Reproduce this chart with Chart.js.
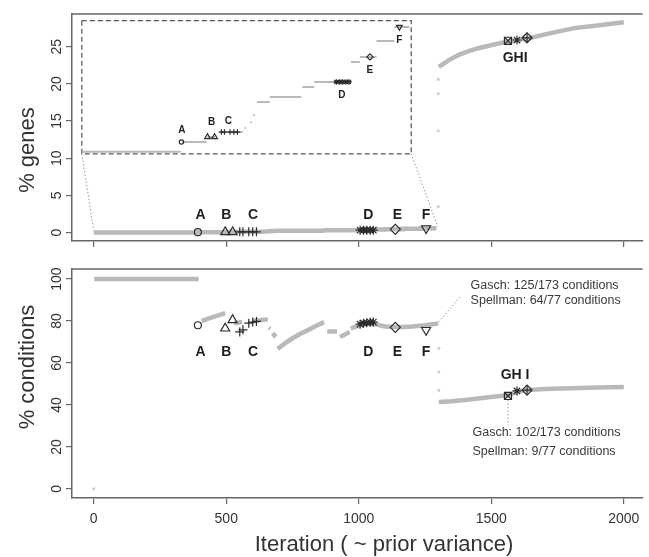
<!DOCTYPE html>
<html>
<head>
<meta charset="utf-8">
<script src="https://cdn.jsdelivr.net/npm/chart.js@4"></script>
<style>
  body { margin: 0; background: #fff; }
  #wrap { position: relative; width: 649px; height: 557px; overflow: hidden; }
  canvas { position: absolute; left: 0; }
</style>
</head>
<body>
<div id="wrap">
  <canvas id="top" width="649" height="260" style="top:0"></canvas>
  <canvas id="bottom" width="649" height="297" style="top:260px"></canvas>
  <canvas id="inset" width="10" height="10"></canvas>
</div>
<script>
// ticks
const X_TICKS = [0, 500, 1000, 1500, 2000];
const GENE_TICKS = [0, 5, 10, 15, 20, 25];
const COND_TICKS = [0, 20, 40, 60, 80, 100];

// % genes, early iterations: flat steps (start, end, value)
const STEP_START = [0, 395, 496, 545, 691, 742, 871, 918, 1063, 1098, 1164, 1234];
const STEP_END = [390, 492, 527, 635, 742, 867, 918, 1059, 1098, 1164, 1234, 1293];
const STEP_PCT = [0.01, 0.054, 0.077, 0.099, 0.235, 0.257, 0.302, 0.325, 0.415, 0.438, 0.51, 0.573];
const RISE_ITER = [645, 668, 680];
const RISE_PCT = [0.117, 0.144, 0.176];

// % genes, after the jump
const GENE_JUMP_ITER = [1300, 1300, 1300, 1300];
const GENE_JUMP_PCT = [3.5, 13.7, 18.7, 20.6];
const GENE_LATE_ITER = [1302, 1340, 1377, 1415, 1451, 1510, 1563, 1638, 1720, 1813, 1907, 2000];
const GENE_LATE_PCT = [22.3, 23.2, 23.9, 24.4, 24.8, 25.3, 25.7, 26.1, 26.8, 27.5, 27.9, 28.3];

// % conditions (null = break in the trace)
const COND_ITER = [2, 396, null, 407, 440, 470, 496, null, 530, 560, null, 600, 657, null, 661, 666, null,
  675, 687, null, 694, 720, 750, 780, 810, 840, 869, null, 881, 918, null, 929, 966, null,
  970, 1000, 1030, 1067, 1100, 1150, 1200, 1250, 1300, null,
  1302, 1350, 1400, 1450, 1515, 1563, 1600, 1640, 1700, 1800, 1900, 2000];
const COND_PCT = [100, 100, null, 80, 81.5, 82.7, 83.8, null, 79, 79.5, null, 80, 80.8, null, 76.8, 76.3, null,
  74.2, 72.4, null, 66.7, 69.3, 71.8, 73.9, 75.8, 77.8, 79.5, null, 75, 75, null, 72.4, 74.8, null,
  76.5, 77.8, 78.8, 78.3, 77.4, 77, 77.4, 78, 78.8, null,
  41.4, 41.8, 42.4, 43.1, 44.1, 44.6, 46.4, 47.2, 47.6, 48, 48.3, 48.6];
const COND_DOT_ITER = [0, 1302, 1302, 1302];
const COND_DOT_PCT = [0, 67, 55.7, 47];

// marked solutions A-I (iterations)
const A_ITER = [393];
const B_ITER = [496, 524];
const C_ITER = [551, 563, 585, 600, 614];
const D_ITER = [1005, 1018, 1030, 1043, 1055];
const E_ITER = [1138];
const F_ITER = [1254];
const G_ITER = [1563];
const H_ITER = [1597];
const I_ITER = [1635];
// their % genes
const A_GENE = [0.054], B_GENE = [0.077, 0.077], C_GENE = [0.099, 0.099, 0.099, 0.099, 0.099];
const D_GENE = [0.325, 0.325, 0.325, 0.325, 0.325], E_GENE = [0.438], F_GENE = [0.573];
const G_GENE = [25.8], H_GENE = [25.9], I_GENE = [26.2];
// their % conditions
const A_COND = [78], B_COND = [76.5, 80.5], C_COND = [74.8, 75.8, 79, 79.5, 79.8];
const D_COND = [78.5, 79, 79.2, 79.4, 79.5], E_COND = [77], F_COND = [75.7];
const G_COND = [44.3], H_COND = [46.7], I_COND = [47.1];

// letter labels
const LETTERS = ['A', 'B', 'C', 'D', 'E', 'F'];
const LETTER_ITER = [403, 500, 601, 1036, 1146, 1254];
const LETTER_GENE = 2.4, LETTER_COND = 65.2;
const GHI_ITER = 1590, GHI_GENE = 23.5, GHI_COND = 54.3;
const INSET_LETTER_ITER = [395, 512, 578, 1027, 1137, 1254];
const INSET_LETTER_PCT = [0.108, 0.144, 0.149, 0.266, 0.379, 0.514];

// inset: where it sits in the top panel, and what it shows
const INSET_ITER = [-45, 1198];
const INSET_PCT = [10.6, 28.5];
const INSET_RANGE_ITER = [0, 1300];
const INSET_RANGE_PCT = [0, 0.6];

// notes
const NOTE_UP = ['Gasch: 125/173 conditions', 'Spellman: 64/77 conditions'];
const NOTE_UP_ITER = 1422, NOTE_UP_PCT = [96.7, 90];
const NOTE_DOWN = ['Gasch: 102/173 conditions', 'Spellman: 9/77 conditions'];
const NOTE_DOWN_ITER = 1429, NOTE_DOWN_PCT = [26.7, 17.6];

const INK = '#2b2b2b', GREY = '#b9b9b9', DOT = '#cfcfcf', AXIS = '#666';
const FONT = '"Liberation Sans", Arial, Helvetica, sans-serif';
Chart.defaults.font.family = FONT;

function pts(xs, ys) { return xs.map((x, i) => ({ x: x, y: ys[i] })); }

function mark(xs, ys, style, r, extra) {
  return Object.assign({
    type: 'scatter', data: pts(xs, ys), pointStyle: style, pointRadius: r,
    borderColor: INK, backgroundColor: 'rgba(0,0,0,0)', borderWidth: 1.2, order: 0
  }, extra || {});
}
function trace(data, w, extra) {
  return Object.assign({
    type: 'line', data: data, borderColor: GREY, borderWidth: w, pointRadius: 0,
    tension: 0, spanGaps: false, borderCapStyle: 'butt', order: 1
  }, extra || {});
}
function dots(xs, ys, r) {
  return { type: 'scatter', data: pts(xs, ys), pointRadius: r, borderWidth: 0,
    backgroundColor: DOT, order: 2 };
}
function markers(vals, big) {
  const k = big ? 1 : 0.62;
  const out = [
    mark(A_ITER, vals[0], 'circle', 3.5 * k),
    mark(B_ITER, vals[1], 'triangle', 5.2 * k),
    mark(C_ITER, vals[2], 'cross', 4.5 * k),
    mark(D_ITER, vals[3], 'star', 4.5 * k),
    mark(E_ITER, vals[4], 'rectRot', 5 * k),
    mark(F_ITER, vals[5], 'triangle', 5.2 * k, { pointRotation: 180 })
  ];
  if (vals.length > 6) {
    out.push(mark(G_ITER, vals[6], 'rect', 5), mark(G_ITER, vals[6], 'crossRot', 5),
      mark(H_ITER, vals[7], 'star', 4.5),
      mark(I_ITER, vals[8], 'rectRot', 5), mark(I_ITER, vals[8], 'cross', 5));
  }
  return out;
}

function xScale(showLabels, h) {
  return {
    type: 'linear', min: -82, max: 2071,
    afterBuildTicks: s => { s.ticks = X_TICKS.map(v => ({ value: v })); },
    afterFit: s => { s.height = h; },
    grid: { drawOnChartArea: false, drawTicks: true, tickLength: 6, color: AXIS, lineWidth: 1.2 },
    border: { display: true, color: AXIS, width: 1.5 },
    ticks: { display: showLabels, color: '#333', padding: 7, maxRotation: 0, font: { size: 14 },
      callback: v => String(v) }
  };
}
function yScale(min, max, ticks) {
  return {
    type: 'linear', min: min, max: max,
    afterBuildTicks: s => { s.ticks = ticks.map(v => ({ value: v })); },
    afterFit: s => { s.width = 72; },
    grid: { drawOnChartArea: false, drawTicks: true, tickLength: 6, color: AXIS, lineWidth: 1.2 },
    border: { display: true, color: AXIS, width: 1.5 },
    ticks: { display: false }
  };
}

// box top, rotated y labels, titles, letters
function panelDeco(cfg) {
  return {
    id: 'deco',
    afterDatasetsDraw(chart) {
      const { ctx, chartArea: a, scales: { x, y } } = chart;
      ctx.save();
      ctx.strokeStyle = AXIS; ctx.lineWidth = 1.5;
      ctx.beginPath(); ctx.moveTo(a.left, a.top); ctx.lineTo(a.right, a.top); ctx.stroke();

      ctx.fillStyle = '#333'; ctx.textAlign = 'center'; ctx.textBaseline = 'middle';
      ctx.font = '14px ' + FONT;
      cfg.yTicks.forEach(v => {
        ctx.save(); ctx.translate(57, y.getPixelForValue(v)); ctx.rotate(-Math.PI / 2);
        ctx.fillText(String(v), 0, 0); ctx.restore();
      });
      ctx.font = '22px ' + FONT;
      ctx.save(); ctx.translate(28, cfg.titleY); ctx.rotate(-Math.PI / 2);
      ctx.fillText(cfg.title, 0, 0); ctx.restore();

      ctx.fillStyle = '#1e1e1e'; ctx.font = 'bold 14px ' + FONT;
      LETTERS.forEach((t, i) => ctx.fillText(t, x.getPixelForValue(LETTER_ITER[i]), y.getPixelForValue(cfg.letterY)));
      ctx.fillText(cfg.ghi, x.getPixelForValue(GHI_ITER), y.getPixelForValue(cfg.ghiY));
      if (cfg.extra) cfg.extra(chart, ctx, x, y);
      ctx.restore();
    }
  };
}

function dotted(ctx, x0, y0, x1, y1) {
  ctx.save(); ctx.strokeStyle = '#9a9a9a'; ctx.lineWidth = 1; ctx.setLineDash([1.5, 2]);
  ctx.beginPath(); ctx.moveTo(x0, y0); ctx.lineTo(x1, y1); ctx.stroke(); ctx.restore();
}

// ---------- top panel: % genes ----------
const lowLine = [];
STEP_START.forEach((s, i) => { lowLine.push({ x: s, y: STEP_PCT[i] }, { x: STEP_END[i], y: STEP_PCT[i] }); });

const topChart = new Chart(document.getElementById('top'), {
  type: 'scatter',
  data: {
    datasets: markers([A_GENE, B_GENE, C_GENE, D_GENE, E_GENE, F_GENE, G_GENE, H_GENE, I_GENE], true).concat([
      trace(lowLine, 4.5),
      dots(GENE_JUMP_ITER, GENE_JUMP_PCT, 1.6),
      trace(pts(GENE_LATE_ITER, GENE_LATE_PCT), 4.5)
    ])
  },
  options: {
    responsive: false, animation: false, events: [], devicePixelRatio: 1,
    layout: { padding: { top: 14, left: 0, right: 0, bottom: 0 } },
    plugins: { legend: { display: false }, tooltip: { enabled: false } },
    scales: { x: xScale(false, 19), y: yScale(-1.13, 29.4, GENE_TICKS) }
  },
  plugins: [panelDeco({
    yTicks: GENE_TICKS, title: '% genes', titleY: 150,
    letterY: LETTER_GENE, ghi: 'GHI', ghiY: GHI_GENE,
    extra(chart, ctx, x, y) {
      const l = x.getPixelForValue(INSET_ITER[0]), r = x.getPixelForValue(INSET_ITER[1]);
      const t = y.getPixelForValue(INSET_PCT[1]), b = y.getPixelForValue(INSET_PCT[0]);
      dotted(ctx, l, b, x.getPixelForValue(0), y.getPixelForValue(0.3));
      dotted(ctx, r, b, x.getPixelForValue(1298), y.getPixelForValue(0.8));
      ctx.save(); ctx.strokeStyle = '#555'; ctx.lineWidth = 1.2; ctx.setLineDash([5, 3]);
      ctx.strokeRect(l, t, r - l, b - t); ctx.restore();
    }
  })]
});

// ---------- inset: zoom on the early % genes ----------
(function () {
  const sx = topChart.scales.x, sy = topChart.scales.y, pad = 8;
  const l = sx.getPixelForValue(INSET_ITER[0]), r = sx.getPixelForValue(INSET_ITER[1]);
  const t = sy.getPixelForValue(INSET_PCT[1]), b = sy.getPixelForValue(INSET_PCT[0]);
  const cv = document.getElementById('inset');
  cv.width = Math.round(r - l) + 2 * pad; cv.height = Math.round(b - t) + 2 * pad;
  cv.style.left = (Math.round(l) - pad) + 'px'; cv.style.top = (Math.round(t) - pad) + 'px';

  const steps = [];
  STEP_START.forEach((s, i) => { steps.push({ x: s, y: STEP_PCT[i] }, { x: STEP_END[i], y: STEP_PCT[i] }, { x: null, y: null }); });

  new Chart(cv, {
    type: 'scatter',
    data: {
      datasets: markers([A_GENE, B_GENE, C_GENE, D_GENE, E_GENE, F_GENE], false).concat([
        trace(steps, 2),
        dots(RISE_ITER, RISE_PCT, 1.2)
      ])
    },
    options: {
      responsive: false, animation: false, events: [], devicePixelRatio: 1,
      layout: { padding: pad },
      plugins: { legend: { display: false }, tooltip: { enabled: false } },
      scales: {
        x: { type: 'linear', display: false, min: INSET_RANGE_ITER[0], max: INSET_RANGE_ITER[1] },
        y: { type: 'linear', display: false, min: INSET_RANGE_PCT[0], max: INSET_RANGE_PCT[1] }
      }
    },
    plugins: [{
      id: 'insetLetters',
      afterDatasetsDraw(chart) {
        const { ctx, scales: { x, y } } = chart;
        ctx.save(); ctx.fillStyle = '#1e1e1e'; ctx.font = 'bold 10px ' + FONT;
        ctx.textAlign = 'center'; ctx.textBaseline = 'middle';
        LETTERS.forEach((t, i) => ctx.fillText(t, x.getPixelForValue(INSET_LETTER_ITER[i]), y.getPixelForValue(INSET_LETTER_PCT[i])));
        ctx.restore();
      }
    }]
  });
})();

// ---------- bottom panel: % conditions ----------
new Chart(document.getElementById('bottom'), {
  type: 'scatter',
  data: {
    datasets: markers([A_COND, B_COND, C_COND, D_COND, E_COND, F_COND, G_COND, H_COND, I_COND], true).concat([
      trace(pts(COND_ITER, COND_PCT), 4.5),
      dots(COND_DOT_ITER, COND_DOT_PCT, 1.6)
    ])
  },
  options: {
    responsive: false, animation: false, events: [], devicePixelRatio: 1,
    layout: { padding: { top: 9, left: 0, right: 0, bottom: 0 } },
    plugins: { legend: { display: false }, tooltip: { enabled: false } },
    scales: { x: xScale(true, 59), y: yScale(-4.3, 104.8, COND_TICKS) }
  },
  plugins: [panelDeco({
    yTicks: COND_TICKS, title: '% conditions', titleY: 107,
    letterY: LETTER_COND, ghi: 'GH I', ghiY: GHI_COND,
    extra(chart, ctx, x, y) {
      dotted(ctx, x.getPixelForValue(1302), y.getPixelForValue(79.5), x.getPixelForValue(1384), y.getPixelForValue(91.9));
      dotted(ctx, x.getPixelForValue(G_ITER[0]), y.getPixelForValue(42.4), x.getPixelForValue(G_ITER[0]), y.getPixelForValue(30.5));
      ctx.fillStyle = '#3a3a3a'; ctx.font = '12.5px ' + FONT; ctx.textAlign = 'left';
      NOTE_UP.forEach((t, i) => ctx.fillText(t, x.getPixelForValue(NOTE_UP_ITER), y.getPixelForValue(NOTE_UP_PCT[i])));
      NOTE_DOWN.forEach((t, i) => ctx.fillText(t, x.getPixelForValue(NOTE_DOWN_ITER), y.getPixelForValue(NOTE_DOWN_PCT[i])));
      ctx.fillStyle = '#333'; ctx.font = '22px ' + FONT; ctx.textAlign = 'center';
      ctx.fillText('Iteration ( ~ prior variance)', 384, 285);
    }
  })]
});
</script>
</body>
</html>
